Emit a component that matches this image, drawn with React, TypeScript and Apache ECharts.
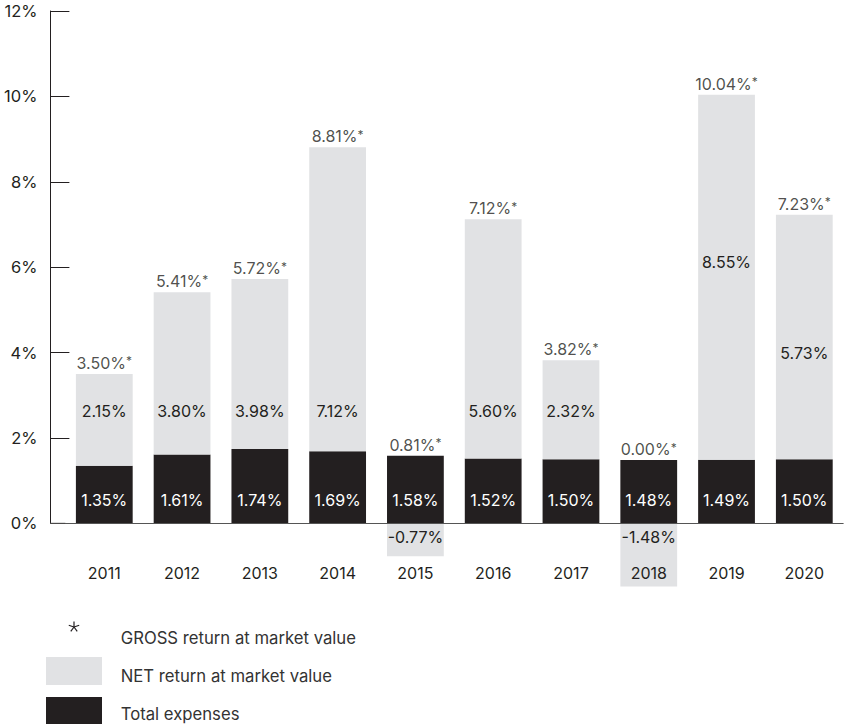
import React, { useEffect, useRef } from "react";
import * as echarts from "echarts";

const years = ["2011", "2012", "2013", "2014", "2015", "2016", "2017", "2018", "2019", "2020"];
const totalExpenses = [1.35, 1.61, 1.74, 1.69, 1.58, 1.52, 1.5, 1.48, 1.49, 1.5];
const netReturn = [2.15, 3.8, 3.98, 7.12, -0.77, 5.6, 2.32, -1.48, 8.55, 5.73];
const grossReturn = [3.5, 5.41, 5.72, 8.81, 0.81, 7.12, 3.82, 0.0, 10.04, 7.23];
const yMin = 0;
const yMax = 12;
const yInterval = 2;
const legendNames = ["GROSS return at market value", "NET return at market value", "Total expenses"];

// layout / style (not data)
const netLabelLevel = [2.62, 2.62, 2.62, 2.62, -0.33, 2.62, 2.62, -0.33, 6.12, 3.99];
const GRID_TOP = 11;
const GRID_BOTTOM = 200.7;
const GRID_LEFT = 65.4;
const GRID_RIGHT = 3.8;
const CHART_H = 724;
const PX_PER_UNIT = (CHART_H - GRID_TOP - GRID_BOTTOM) / (yMax - yMin);
const DARK = "#231f20";
const LIGHT = "#e1e2e4";
const FONT = "Inter";

export default function App() {
  const ref = useRef<HTMLDivElement>(null);
  useEffect(() => {
    if (!ref.current) return;
    const chart = echarts.init(ref.current, null, { renderer: "svg" });

    const netData = netReturn.map((v, i) => {
      const center = v >= 0 ? totalExpenses[i] + v / 2 : v / 2;
      const dy = (center - netLabelLevel[i]) * PX_PER_UNIT;
      return { value: v, label: { offset: [0, dy] } };
    });
    const topData = years.map((_, i) => [i, Math.max(totalExpenses[i], grossReturn[i])]);

    const cx = 74;
    const cy = 627;
    const arms: any[] = [];
    for (let k = 0; k < 5; k++) {
      const a = ((-90 + k * 72) * Math.PI) / 180;
      arms.push({
        type: "line",
        shape: { x1: cx, y1: cy, x2: cx + Math.cos(a) * 5.5, y2: cy + Math.sin(a) * 5.5 },
        style: { stroke: DARK, lineWidth: 1.2 },
      });
    }

    const legendText = (text: string, y: number) => ({
      type: "text",
      x: 120.7,
      y,
      style: { text, fontSize: 16.7, fontFamily: FONT, fill: "#333333", verticalAlign: "middle" },
    });

    const option: any = {
      animation: false,
      textStyle: { fontFamily: FONT },
      grid: { top: GRID_TOP, bottom: GRID_BOTTOM, left: GRID_LEFT, right: GRID_RIGHT, containLabel: false },
      xAxis: {
        type: "category",
        data: years,
        z: 10,
        axisLine: { lineStyle: { color: "#555555", width: 1 } },
        axisTick: { inside: true, length: 12, lineStyle: { color: DARK, width: 1 } },
        axisLabel: { color: DARK, fontSize: 16, fontFamily: FONT, margin: 42, lineHeight: 16 },
      },
      yAxis: {
        type: "value",
        min: yMin,
        max: yMax,
        interval: yInterval,
        offset: 15,
        axisLine: { show: true, lineStyle: { color: DARK, width: 1 } },
        axisTick: { show: true, inside: true, length: 19, lineStyle: { color: DARK, width: 1 } },
        splitLine: { show: false },
        axisLabel: { color: DARK, fontSize: 16.5, fontFamily: FONT, margin: 13, formatter: "{value}%" },
      },
      series: [
        {
          name: legendNames[2],
          type: "bar",
          stack: "total",
          barWidth: "73%",
          clip: false,
          data: totalExpenses,
          itemStyle: { color: DARK },
          label: {
            show: true,
            position: "insideBottom",
            distance: 15,
            color: "#ffffff",
            fontSize: 16,
            lineHeight: 16,
            fontFamily: FONT,
            formatter: (p: any) => p.value.toFixed(2) + "%",
          },
        },
        {
          name: legendNames[1],
          type: "bar",
          stack: "total",
          barWidth: "73%",
          clip: false,
          data: netData,
          itemStyle: { color: LIGHT },
          label: {
            show: true,
            position: "inside",
            color: DARK,
            fontSize: 16,
            lineHeight: 16,
            fontFamily: FONT,
            formatter: (p: any) => p.value.toFixed(2) + "%",
          },
        },
        {
          name: legendNames[0],
          type: "scatter",
          symbolSize: 0,
          data: topData,
          z: 5,
          label: {
            show: true,
            position: "top",
            distance: 3,
            color: DARK,
            fontSize: 16,
            lineHeight: 16,
            fontFamily: FONT,
            formatter: (p: any) => "{a|" + grossReturn[p.dataIndex].toFixed(2) + "%}{s|*}",
            rich: {
              a: { fontSize: 16, lineHeight: 16, fontFamily: FONT, color: DARK },
              s: { fontSize: 12, lineHeight: 16, fontFamily: FONT, color: DARK, verticalAlign: "top" },
            },
          },
        },
      ],
      graphic: [
        {
          type: "line",
          z: 10,
          shape: { x1: 50, y1: CHART_H - GRID_BOTTOM, x2: GRID_LEFT, y2: CHART_H - GRID_BOTTOM },
          style: { stroke: "#555555", lineWidth: 1 },
        },
        { type: "group", children: arms },
        { type: "rect", shape: { x: 46, y: 657, width: 56, height: 28 }, style: { fill: LIGHT } },
        { type: "rect", shape: { x: 46, y: 697, width: 56, height: 28 }, style: { fill: DARK } },
        legendText(legendNames[0], 638.3),
        legendText(legendNames[1], 676),
        legendText(legendNames[2], 714),
      ],
    };
    chart.setOption(option);
    return () => chart.dispose();
  }, []);
  return <div ref={ref} style={{ position: "absolute", left: 0, top: 0, width: 847, height: 724 }} />;
}
